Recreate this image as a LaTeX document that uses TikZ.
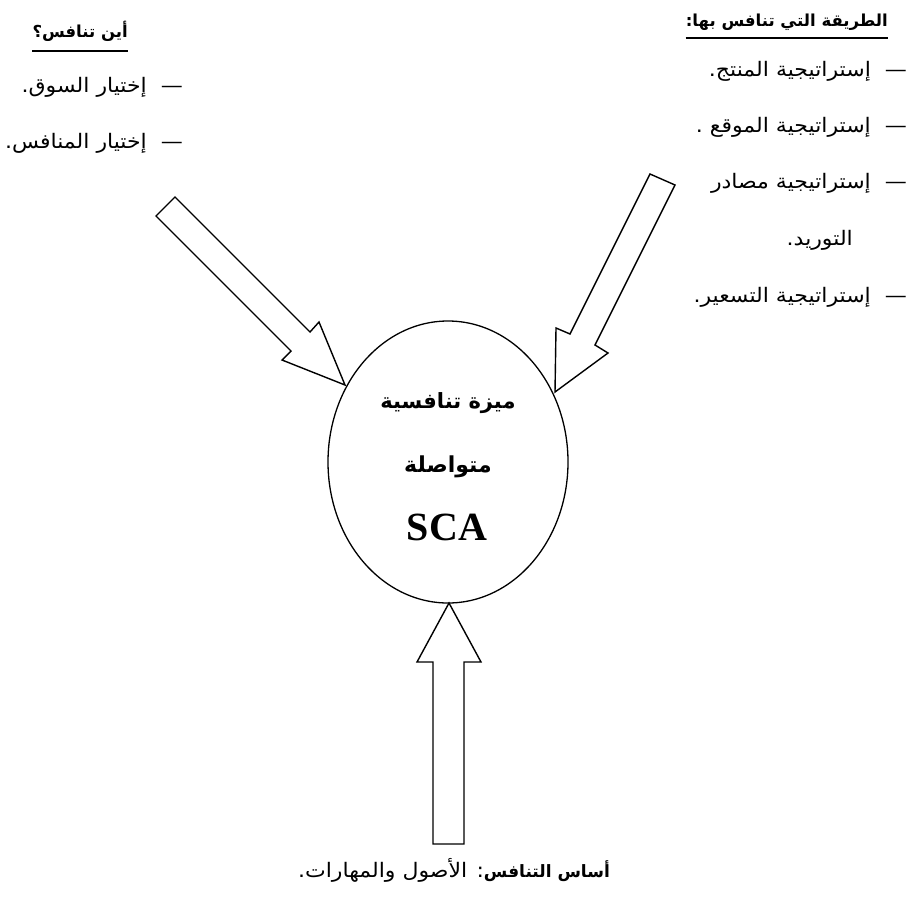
\documentclass[tikz,border=0pt]{standalone}
\usepackage{fontspec}
\setmainfont{Liberation Serif}
\newfontfamily\arabicfont[Script=Arabic,FakeStretch=1.1]{DejaVu Sans}
\newfontfamily\arabicbf[Script=Arabic]{DejaVu Sans}
\TeXXeTstate=1
\usetikzlibrary{shapes.geometric}
\begin{document}
\begin{tikzpicture}[x=1pt,y=-1pt,line join=miter,
  artxt/.style={font=\arabicfont\fontsize{20}{24}\selectfont, inner sep=0pt},
  arhead/.style={font=\arabicbf\bfseries\fontsize{16.5}{19}\selectfont, inner sep=0pt},
  arcenter/.style={font=\arabicbf\bfseries\fontsize{21}{25}\selectfont, inner sep=0pt},
  blockarrow/.style={draw, line width=1.4pt, fill=white},
  uline/.style={line width=1.5pt}]
\useasboundingbox (0,0) rectangle (909,900);
% central ellipse
\node[draw, ellipse, line width=1.3pt, minimum width=240, minimum height=282, inner sep=0pt] (sca) at (448,462) {};
\node[arcenter] (c1) at (448,403) {\beginR ميزة تنافسية\endR};
\node[arcenter, font=\arabicbf\bfseries\fontsize{22}{25}\selectfont] (c2) at (448,467) {\beginR متواصلة\endR};
\node[font=\bfseries\fontsize{40}{42}\selectfont, inner sep=0pt] (c3) at (447,527) {SCA};
% left arrow
\draw[blockarrow] (175,197) -- (310,332) -- (319,322) -- (345,385) -- (282,360) -- (291,351) -- (156,216) -- cycle;
% right arrow
\draw[blockarrow] (650,174) -- (675,185) -- (595,345) -- (608,353) -- (555,392) -- (556,328) -- (570,334) -- cycle;
% bottom arrow
\draw[blockarrow] (433,844) -- (433,662) -- (417,662) -- (449,603) -- (481,662) -- (464,662) -- (464,844) -- cycle;
% left text block
\node[arhead, anchor=east] (lh) at (128,31) {\beginR أين تنافس؟\endR};
\draw[uline] (lh.south west |- 0,51) coordinate (lu1) -- (lh.south east |- 0,51) coordinate (lu2);
\node[artxt, anchor=east] (l1) at (183,87) {\beginR —\ \ إختيار السوق.\endR};
\node[artxt, anchor=east] (l2) at (183,143) {\beginR —\ \ إختيار المنافس.\endR};
% right text block
\node[arhead, anchor=east] (rh) at (888,22) {\beginR الطريقة التي تنافس بها:\endR};
\draw[uline] (rh.south west |- 0,38) coordinate (ru1) -- (rh.south east |- 0,38) coordinate (ru2);
\node[artxt, anchor=east] (r1) at (907,71) {\beginR —\ \ إستراتيجية المنتج.\endR};
\node[artxt, anchor=east] (r2) at (907,127) {\beginR —\ \ إستراتيجية الموقع .\endR};
\node[artxt, anchor=east] (r3) at (907,183) {\beginR —\ \ إستراتيجية مصادر\endR};
\node[artxt, anchor=east] (r4) at (853,240) {\beginR التوريد.\endR};
\node[artxt, anchor=east] (r5) at (907,297) {\beginR —\ \ إستراتيجية التسعير.\endR};
% bottom text
\node[artxt] (b1) at (454,870) {\beginR{\arabicbf\bfseries\fontsize{17}{22}\selectfont أساس التنافس}: الأصول والمهارات.\endR};
\end{tikzpicture}
\end{document}
